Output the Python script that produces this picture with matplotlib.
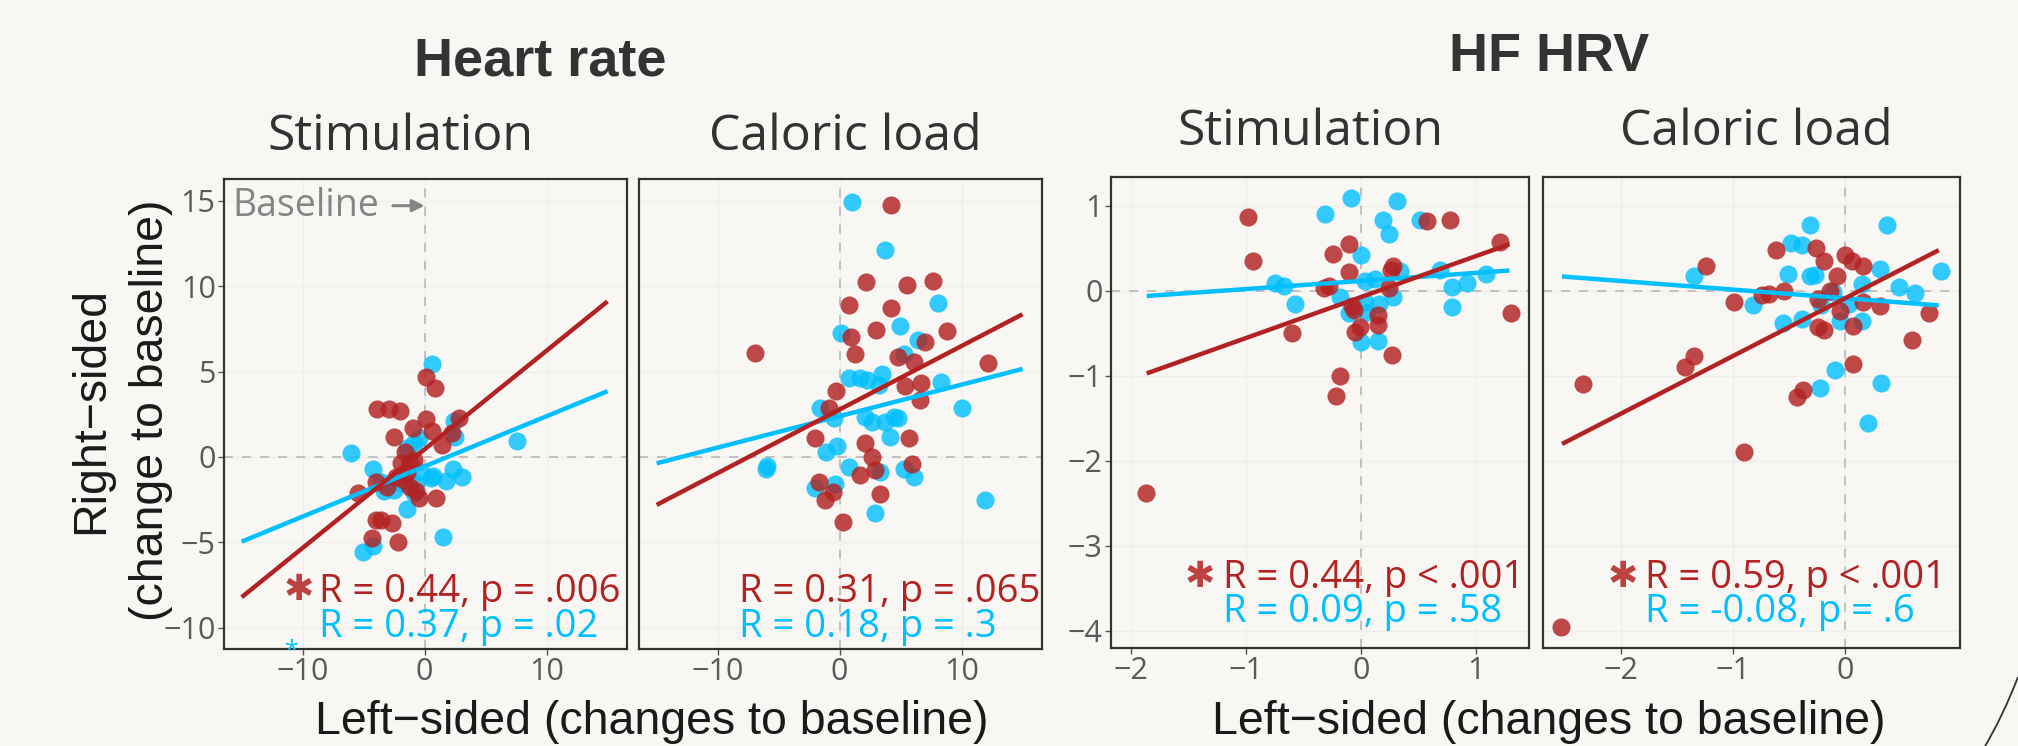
import matplotlib
matplotlib.use("Agg")
import matplotlib.pyplot as plt
import numpy as np
from matplotlib.path import Path
from matplotlib.patches import PathPatch
import matplotlib.transforms as mtransforms

BG = "#F8F7F4"
RED = "#B22222"
BLUE = "#00BFFF"
TICK_FONT = ["Open Sans", "DejaVu Sans"]
LABEL_FONT = ["Liberation Sans", "DejaVu Sans"]

# ---- data (x = left-sided, y = right-sided) ----
# Heart rate, stimulation
hr_stim_red_x = [-3.93, -2.92, -2.02, 0.11, 0.85, 0.08, -0.96, 0.63, -2.51, 2.81, 2.27, 1.45, -1.64,
                 -0.87, -1.97, -1.42, -2.38, -4.02, -5.44, -1.20, 0.90, -0.46, -4.02, -3.61, -2.65,
                 -4.29, -2.19, -1.69, -3.05, -0.70, -1.20]
hr_stim_red_y = [2.79, 2.79, 2.71, 4.70, 4.02, 2.20, 1.68, 1.52, 1.15, 2.26, 1.39, 0.70, 0.31,
                 -0.18, -0.37, -0.86, -1.15, -1.44, -2.09, -1.74, -2.38, -2.42, -3.68, -3.68, -3.84,
                 -4.72, -4.95, -1.35, -1.74, -2.00, -0.37]
hr_stim_blue_x = [0.63, -6.01, 7.54, 2.40, 2.46, -0.87, -1.42, -4.21, 0.49, 1.72, 2.32, 3.03, -3.33,
                  -2.51, -0.87, -0.74, -1.48, 1.53, -5.03, -4.21, -3.61, -0.32, -1.97, 0.70, -0.46]
hr_stim_blue_y = [5.42, 0.25, 0.95, 2.12, 1.18, 0.84, 0.51, -0.70, -1.25, -1.38, -0.72, -1.19, -1.97,
                  -1.93, -2.12, -1.50, -3.06, -4.66, -5.54, -5.20, -1.44, -0.86, -1.54, -1.10, 1.10]

# Heart rate, caloric load
hr_cal_red_x = [4.18, 2.16, 5.52, 7.68, 0.74, 4.23, 3.01, 8.80, 0.93, 1.23, -6.91, 6.97, 4.78, 6.07,
                12.21, 5.38, 6.69, 6.62, -0.30, -0.85, -1.99, 2.05, 5.71, 2.65, 5.93, 2.87, 1.70,
                -1.72, -0.57, -1.23, 3.34, 0.25]
hr_cal_red_y = [14.74, 10.25, 10.06, 10.29, 8.89, 8.73, 7.43, 7.39, 7.04, 6.00, 6.10, 6.74, 5.87, 5.57,
                5.48, 4.15, 4.31, 3.33, 3.88, 2.88, 1.09, 0.80, 1.09, 0.02, -0.41, -0.76, -1.05,
                -1.44, -2.03, -2.51, -2.16, -3.78]
hr_cal_blue_x = [1.01, 3.69, 8.11, 4.97, 0.14, 6.39, 5.25, 0.74, 1.70, 2.24, 3.47, 3.20, 8.31, 10.03,
                 -1.58, -0.49, 2.05, 2.65, 3.74, 4.43, 4.78, 4.10, -0.22, -1.12, 0.74, 3.28, 5.25,
                 6.07, -6.04, -5.96, -1.99, -0.41, 2.87, 11.94]
hr_cal_blue_y = [14.93, 12.10, 9.02, 7.68, 7.27, 6.84, 6.00, 4.60, 4.60, 4.50, 4.85, 4.21, 4.40, 2.85,
                 2.89, 2.26, 2.36, 2.07, 2.07, 2.36, 2.26, 1.19, 0.64, 0.31, -0.57, -0.86, -0.70,
                 -1.15, -0.70, -0.50, -1.83, -1.56, -3.25, -2.51]

# HF HRV, stimulation
hrv_stim_red_x = [-0.98, -0.94, 0.57, 0.77, 1.21, -0.10, -0.24, -0.10, 0.28, 0.26, -0.28, -0.32, 0.24,
                  -0.08, 0.15, 0.15, 1.30, -0.60, -0.05, -0.01, 0.27, -0.18, -0.22, -1.87, -0.06]
hrv_stim_red_y = [0.87, 0.35, 0.82, 0.84, 0.58, 0.55, 0.43, 0.22, 0.29, 0.25, 0.06, 0.03, 0.03,
                  -0.18, -0.28, -0.40, -0.26, -0.50, -0.48, -0.42, -0.75, -1.00, -1.24, -2.38, -0.22]
hrv_stim_blue_x = [-0.09, 0.31, -0.31, 0.19, 0.24, 0.51, 0.00, 0.34, 0.69, 1.09, -0.75, -0.67, -0.57,
                   0.79, 0.92, 0.79, 0.28, 0.12, 0.04, -0.18, -0.10, 0.05, 0.16, 0.00, 0.15, 0.04]
hrv_stim_blue_y = [1.09, 1.06, 0.90, 0.84, 0.67, 0.83, 0.42, 0.24, 0.25, 0.20, 0.09, 0.06, -0.15,
                   0.05, 0.09, -0.19, -0.07, 0.14, 0.12, -0.07, -0.26, -0.25, -0.15, -0.60, -0.59, -0.13]

# HF HRV, caloric load
hrv_cal_red_x = [-2.54, -2.34, -1.43, -1.35, -1.24, -0.90, -0.99, -0.74, -0.68, -0.54, -0.62, -0.26,
                 -0.19, 0.00, 0.06, 0.16, -0.07, -0.13, 0.16, 0.31, 0.75, 0.60, 0.07, -0.24, -0.19,
                 -0.04, 0.07, -0.37, -0.43, -0.24]
hrv_cal_red_y = [-3.95, -1.09, -0.89, -0.77, 0.29, -1.90, -0.13, -0.05, -0.04, 0.00, 0.48, 0.50,
                 0.35, 0.42, 0.35, 0.29, 0.18, 0.00, -0.13, -0.18, -0.26, -0.58, -0.41, -0.42, -0.46,
                 -0.24, -0.86, -1.16, -1.25, -0.10]
hrv_cal_blue_x = [-0.31, 0.38, -0.48, -0.38, -1.35, -0.51, -0.31, -0.27, 0.31, 0.86, 0.48, 0.63, 0.15,
                  -0.82, -0.55, -0.38, 0.15, -0.04, -0.11, 0.04, -0.09, -0.22, 0.32, 0.21, -0.21]
hrv_cal_blue_y = [0.78, 0.78, 0.56, 0.54, 0.18, 0.20, 0.17, 0.19, 0.26, 0.23, 0.05, -0.03, 0.08,
                  -0.16, -0.38, -0.33, -0.35, -0.35, -0.01, -0.15, -0.93, -1.14, -1.08, -1.55, -0.17]

# regression line end points (x0, x1) and (y0, y1)
fit_x = [[-15, 15], [-15, 15], [-1.86, 1.29], [-2.53, 0.84]]
fit_red_y = [[-8.2, 9.1], [-2.8, 8.35], [-0.97, 0.55], [-1.80, 0.48]]
fit_blue_y = [[-4.95, 3.85], [-0.37, 5.15], [-0.06, 0.24], [0.17, -0.17]]

# correlation labels
red_labels = ["R = 0.44, p = .006", "R = 0.31, p = .065", "R = 0.44, p < .001", "R = 0.59, p < .001"]
blue_labels = ["R = 0.37, p = .02", "R = 0.18, p = .3", "R = 0.09, p = .58", "R = -0.08, p = .6"]
significant = [True, False, True, True]
panel_titles = ["Stimulation", "Caloric load", "Stimulation", "Caloric load"]

plt.rcParams["axes.unicode_minus"] = True

fig = plt.figure(figsize=(20.18, 7.46), dpi=100, facecolor=BG)
W, H = 2018.0, 746.0


def px_axes(left, top, right, bottom):
    return fig.add_axes([left / W, 1 - bottom / H, (right - left) / W, (bottom - top) / H])


axes = [px_axes(224, 179, 627, 649), px_axes(639, 179, 1042, 649),
        px_axes(1111, 177, 1529, 648), px_axes(1543, 177, 1960, 648)]

xlims = [(-16.45, 16.6), (-16.45, 16.6), (-2.17, 1.46), (-2.70, 1.03)]
ylims = [(-11.23, 16.26), (-11.23, 16.26), (-4.2, 1.34), (-4.2, 1.34)]
xticks = [[-10, 0, 10], [-10, 0, 10], [-2, -1, 0, 1], [-2, -1, 0]]
yticks = [[-10, -5, 0, 5, 10, 15], [-10, -5, 0, 5, 10, 15], [-4, -3, -2, -1, 0, 1], [-4, -3, -2, -1, 0, 1]]

red_xs = [hr_stim_red_x, hr_cal_red_x, hrv_stim_red_x, hrv_cal_red_x]
red_ys = [hr_stim_red_y, hr_cal_red_y, hrv_stim_red_y, hrv_cal_red_y]
blue_xs = [hr_stim_blue_x, hr_cal_blue_x, hrv_stim_blue_x, hrv_cal_blue_x]
blue_ys = [hr_stim_blue_y, hr_cal_blue_y, hrv_stim_blue_y, hrv_cal_blue_y]

# label positions (data coords): red text x, red y, blue y, star right edge x, star y
label_pos = [(-8.7, -8.48, -10.5, -9.05, -7.75),
             (-8.28, -8.48, -10.5, None, None),
             (-1.20, -3.49, -3.90, -1.27, -3.36),
             (-1.79, -3.49, -3.90, -1.85, -3.36)]

for i, ax in enumerate(axes):
    ax.set_facecolor(BG)
    ax.set_xlim(*xlims[i])
    ax.set_ylim(*ylims[i])
    ax.set_xticks(xticks[i])
    ax.set_yticks(yticks[i])
    ax.grid(True, color="#F0EEEA", lw=0.9, zorder=0)
    ax.set_axisbelow(True)
    for sp in ax.spines.values():
        sp.set_color("#333333")
        sp.set_linewidth(1.6)
    ax.tick_params(axis="both", length=4, width=1, color="#555555", labelcolor="#5A5A5A",
                   labelsize=22, pad=2)
    for lab in ax.get_xticklabels() + ax.get_yticklabels():
        lab.set_family(TICK_FONT)
    if i in (1, 3):
        ax.tick_params(axis="y", length=0, labelleft=False)

    ax.axhline(0, color="#BDBDBD", lw=1.3, ls=(0, (5, 5)), zorder=1)
    ax.axvline(0, color="#BDBDBD", lw=1.3, ls=(0, (5, 5)), zorder=1)

    ax.scatter(blue_xs[i], blue_ys[i], s=170, color=BLUE, alpha=0.8, linewidths=0, zorder=3)
    ax.scatter(red_xs[i], red_ys[i], s=170, color=RED, alpha=0.82, linewidths=0, zorder=3)
    ax.plot(fit_x[i], fit_blue_y[i], color=BLUE, lw=3.2, zorder=4, solid_capstyle="butt")
    ax.plot(fit_x[i], fit_red_y[i], color=RED, lw=3.2, zorder=5, solid_capstyle="butt")

    tx, ry, by, sx, sy = label_pos[i]
    ax.text(tx, ry, red_labels[i], color=RED, fontsize=27.5, family=TICK_FONT, va="baseline", zorder=6)
    ax.text(tx, by, blue_labels[i], color=BLUE, fontsize=27.5, family=TICK_FONT, va="baseline", zorder=6)
    if significant[i]:
        ax.text(sx, sy, "\u2731", color=RED, alpha=0.85, fontsize=26, family=["DejaVu Sans"],
                ha="right", va="center", zorder=6)

# baseline hint in the first panel
axes[0].text(-15.75, 14.7, "Baseline", color="#858585", fontsize=27, family=TICK_FONT,
             ha="left", va="center", zorder=6)
axes[0].annotate("", xy=(0, 14.7), xytext=(-2.6, 14.7),
                 arrowprops=dict(arrowstyle="-|>", color="#858585", lw=2.2, mutation_scale=18,
                                 shrinkA=0, shrinkB=0), zorder=6)
# small clipped star under the first panel
trans = mtransforms.blended_transform_factory(axes[0].transData, axes[0].transAxes)
axes[0].text(-10.9, -0.005, "*", color=BLUE, fontsize=18, family=TICK_FONT, ha="center",
             va="center", transform=trans, clip_on=False, zorder=7)

# titles (placed by baseline)
fig.text(540 / W, 1 - 76 / H, "Heart rate", fontsize=39, fontweight="bold", color="#333333",
         family=LABEL_FONT, ha="center", va="baseline")
fig.text(1549 / W, 1 - 71 / H, "HF HRV", fontsize=39, fontweight="bold", color="#333333",
         family=LABEL_FONT, ha="center", va="baseline")
sub_pos = [(400, 150), (845, 150), (1311, 145), (1756, 145)]
for (sx, sy), t in zip(sub_pos, panel_titles):
    fig.text(sx / W, 1 - sy / H, t, fontsize=36, color="#333333", family=TICK_FONT,
             ha="center", va="baseline")

# axis labels
xlab = "Left\u2212sided (changes to baseline)"
fig.text(652 / W, 1 - 734 / H, xlab, fontsize=33.5, color="#1A1A1A", family=LABEL_FONT,
         ha="center", va="baseline")
fig.text(1549 / W, 1 - 734 / H, xlab, fontsize=33.5, color="#1A1A1A", family=LABEL_FONT,
         ha="center", va="baseline")
fig.text(121 / W, 1 - 410 / H, "Right\u2212sided\n(change to baseline)", fontsize=33.5,
         color="#1A1A1A", family=LABEL_FONT, rotation=90, ha="center", va="center",
         multialignment="center", linespacing=1.45)

# slide decoration arc at the lower right corner
verts = [(2018 / W, 1 - 677 / H), (2003 / W, 1 - 716 / H), (1984 / W, 1 - 748 / H)]
arc = PathPatch(Path(verts, [Path.MOVETO, Path.CURVE3, Path.CURVE3]), transform=fig.transFigure,
                fill=False, edgecolor="#333333", lw=1.3)
fig.patches.append(arc)

fig.savefig("out.png", dpi=100, facecolor=BG)
